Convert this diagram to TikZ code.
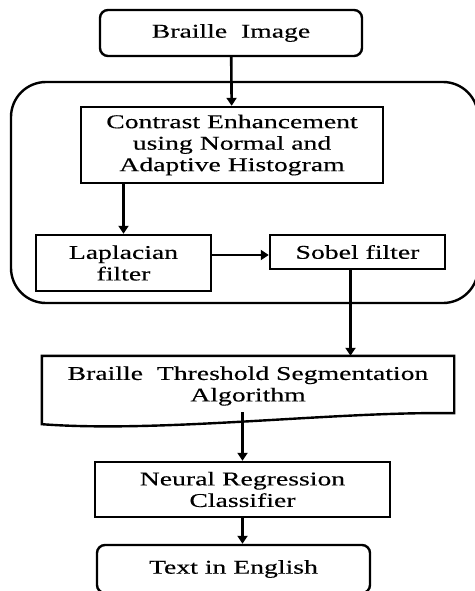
\documentclass[tikz,border=0pt]{standalone}
\usepackage{fontspec}
\setmainfont{Liberation Serif}[FakeStretch=1.42, FakeBold=0.3]
\usetikzlibrary{arrows.meta}
\begin{document}
\begin{tikzpicture}[x=1pt, y=-1pt,
	    box/.style={draw, line width=2.4pt, align=center, inner sep=0pt,
	        font=\fontsize{19.5}{21.5}\selectfont},
	    endbox/.style={box, rounded corners=8pt},
	    arr/.style={-{Triangle[width=10pt,length=8pt]}, line width=2.6pt}]
	    \useasboundingbox (0,0) rectangle (474,591);
	    
	    % Eingabe
	    \node[endbox, minimum width=262pt, minimum height=46pt] (img) at (231,33) {Braille\ \ Image};
	    
	    % Vorverarbeitung (Gruppe)
	    \node[draw, line width=2.4pt, rounded corners=35pt, minimum width=467pt, minimum height=221pt] (stage) at (244.5,192.5) {};
	    \node[box, minimum width=302pt, minimum height=76pt] (contrast) at (232,145) {Contrast Enhancement\\using Normal and\\Adaptive Histogram};
	    \node[box, minimum width=175pt, minimum height=56pt] (lap) at (123.5,263) {Laplacian\\filter};
	    \node[box, minimum width=175pt, minimum height=34pt] (sobel) at (357.5,252) {Sobel filter};
	    
	    % Segmentierung (Dokument-Form)
	    \node[box, draw=none, minimum width=410pt, minimum height=58pt] (bts) at (248,386) {Braille\ \ Threshold Segmentation\\Algorithm};
	    \draw[line width=2.4pt] (bts.north west) -- (bts.north east) -- ([yshift=3pt]bts.south east)
	        .. controls ([xshift=-120pt, yshift=5pt]bts.south east) and ([xshift=120pt, yshift=-17pt]bts.south west) ..
	        ([yshift=-8pt]bts.south west) -- cycle;
	    
	    % Klassifikation und Ausgabe
	    \node[box, minimum width=295pt, minimum height=55pt] (neural) at (242.5,489.5) {Neural Regression\\Classifier};
	    \node[endbox, minimum width=273pt, minimum height=48pt] (eng) at (233.5,569) {Text in English};
	    
	    % Verbindungspfeile
	    \draw[arr] (img) -- (contrast);
	    \draw[arr] (lap.north |- contrast.south) -- (lap.north);
	    \draw[arr] ([yshift=-3pt]lap.east |- sobel.west) -- ([yshift=-3pt]sobel.west);
	    \draw[arr] ([xshift=-7pt]sobel.south) -- ([xshift=-7pt]sobel.south |- bts.north);
	    \draw[arr] ([yshift=4pt]neural.north |- bts.south) -- (neural.north);
	    \draw[arr] (neural.south) -- (neural.south |- eng.north);
\end{tikzpicture}
\end{document}
